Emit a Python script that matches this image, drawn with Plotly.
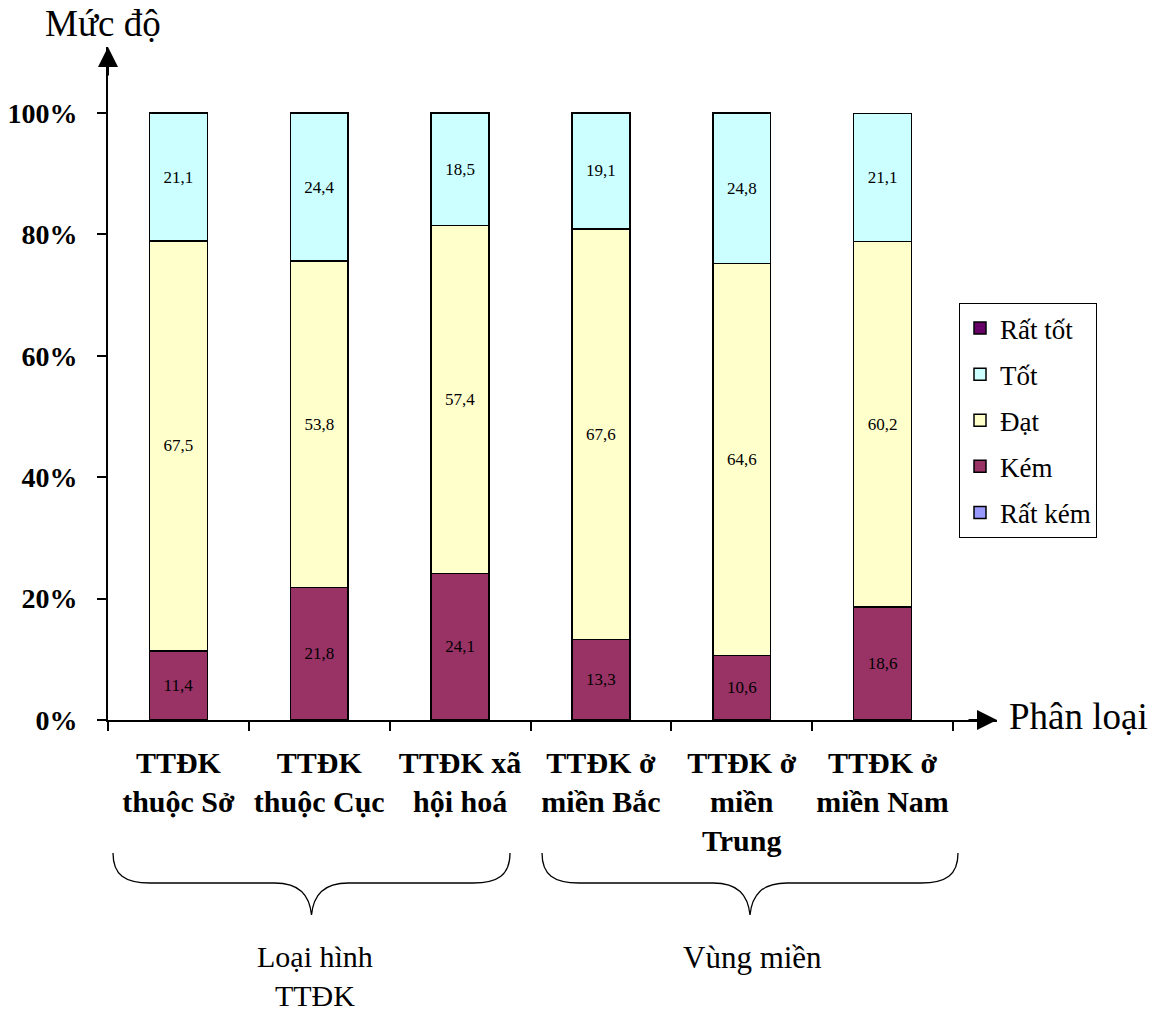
import plotly.graph_objects as go

# Survey results by centre type and region (percent)
categories = [
    "TTĐK<br>thuộc Sở",
    "TTĐK<br>thuộc Cục",
    "TTĐK xã<br>hội hoá",
    "TTĐK ở<br>miền Bắc",
    "TTĐK ở<br>miền<br>Trung",
    "TTĐK ở<br>miền Nam",
]
rat_kem = [0, 0, 0, 0, 0, 0]
kem = [11.4, 21.8, 24.1, 13.3, 10.6, 18.6]
dat = [67.5, 53.8, 57.4, 67.6, 64.6, 60.2]
tot = [21.1, 24.4, 18.5, 19.1, 24.8, 21.1]
rat_tot = [0, 0, 0, 0, 0, 0]

# stacked bottom to top; legend lists them top to bottom
series = [
    ("Rất kém", rat_kem, "#9999FF"),
    ("Kém", kem, "#993366"),
    ("Đạt", dat, "#FFFFCC"),
    ("Tốt", tot, "#CCFFFF"),
    ("Rất tốt", rat_tot, "#660066"),
]

y_ticks = [0, 20, 40, 60, 80, 100]
y_tick_text = ["0%", "20%", "40%", "60%", "80%", "100%"]

SERIF = "Liberation Serif"
W, H = 1165, 1013
L, R, T, B = 108, 168, 47, 293
PW, PH = W - L - R, H - T - B

# axis extents (arrow tips sit at the ends of the ranges)
x_max = 5.5 + 44 / (845 / 6)
y_max = 100 * PH / 607


def px(x):
    return (x - L) / PW


def py(y):
    return (H - B - y) / PH


def fmt(v):
    return f"{v:.1f}".replace(".", ",") if v >= 1 else ""


fig = go.Figure()
n = len(series)
for i, (name, vals, color) in enumerate(series):
    fig.add_trace(go.Bar(
        x=categories, y=vals, name=name, legendgroup=name, legendrank=n - i,
        marker=dict(color=color, line=dict(color="black", width=1.5)),
        text=[fmt(v) for v in vals], textposition="inside",
        insidetextanchor="middle", textangle=0,
        textfont=dict(family=SERIF, size=17, color="black"),
        hoverinfo="skip",
    ))


def brace(x0, x1, ytop, ymid, ybot):
    cx = (x0 + x1) / 2
    pts = [
        f"M{px(x0)},{py(ytop)}",
        f"C{px(x0)},{py(ymid - 8)} {px(x0 + 12)},{py(ymid)} {px(x0 + 37)},{py(ymid)}",
        f"L{px(cx - 37)},{py(ymid)}",
        f"C{px(cx - 12)},{py(ymid)} {px(cx - 2)},{py(ymid + 12)} {px(cx)},{py(ybot)}",
        f"C{px(cx + 2)},{py(ymid + 12)} {px(cx + 12)},{py(ymid)} {px(cx + 37)},{py(ymid)}",
        f"L{px(x1 - 37)},{py(ymid)}",
        f"C{px(x1 - 12)},{py(ymid)} {px(x1)},{py(ymid - 8)} {px(x1)},{py(ytop)}",
    ]
    return dict(type="path", xref="paper", yref="paper", path=" ".join(pts),
                line=dict(color="black", width=1.3))


shapes = [brace(113, 510, 853, 883, 915), brace(542, 958, 853, 883, 915)]


def label(x, y, text, size, **kw):
    return dict(x=px(x), y=py(y), xref="paper", yref="paper", text=text,
                showarrow=False, font=dict(family=SERIF, size=size, color="black"), **kw)


annotations = [
    # axis arrowheads
    dict(x=x_max, y=0, xref="x", yref="y", ax=-30, ay=0, axref="pixel", ayref="pixel",
         showarrow=True, arrowhead=2, arrowsize=2, arrowwidth=2, arrowcolor="black", text=""),
    dict(x=-0.5, y=y_max, xref="x", yref="y", ax=0, ay=30, axref="pixel", ayref="pixel",
         showarrow=True, arrowhead=2, arrowsize=2, arrowwidth=2, arrowcolor="black", text=""),
    label(103, 24, "Mức độ", 37, xanchor="center", yanchor="middle"),
    label(1007, 716, "Phân loại", 37, xanchor="left", yanchor="middle"),
    label(315, 938, "Loại hình<br>TTĐK", 30, xanchor="center", yanchor="top"),
    label(752, 938, "Vùng miền", 31, xanchor="center", yanchor="top"),
]

fig.update_layout(
    width=W, height=H,
    margin=dict(l=L, r=R, t=T, b=B, pad=0, autoexpand=False),
    barmode="stack", bargap=0.59,
    plot_bgcolor="white", paper_bgcolor="white",
    font=dict(family=SERIF, color="black"),
    showlegend=True,
    legend=dict(
        x=px(959), y=py(303), xanchor="left", yanchor="top",
        traceorder="grouped", tracegroupgap=8,
        bordercolor="black", borderwidth=1, bgcolor="white",
        font=dict(family=SERIF, size=27, color="black"),
    ),
    xaxis=dict(
        type="category", range=[-0.5, x_max], tickson="boundaries",
        showline=True, linecolor="black", linewidth=2,
        ticks="outside", ticklen=9, tickwidth=1.5, tickcolor="black",
        tickangle=0, showgrid=False, zeroline=False, automargin=False,
        tickfont=dict(family=SERIF, size=30, color="black", weight="bold"),
        ticklabelstandoff=15,
    ),
    yaxis=dict(
        range=[0, y_max], tickvals=y_ticks, ticktext=y_tick_text,
        showline=True, linecolor="black", linewidth=2,
        ticks="outside", ticklen=9, tickwidth=1.5, tickcolor="black",
        showgrid=False, zeroline=False, automargin=False,
        tickfont=dict(family=SERIF, size=28, color="black", weight="bold"),
        ticklabelstandoff=14,
    ),
    shapes=shapes,
    annotations=annotations,
)

fig.write_html("out.html")
